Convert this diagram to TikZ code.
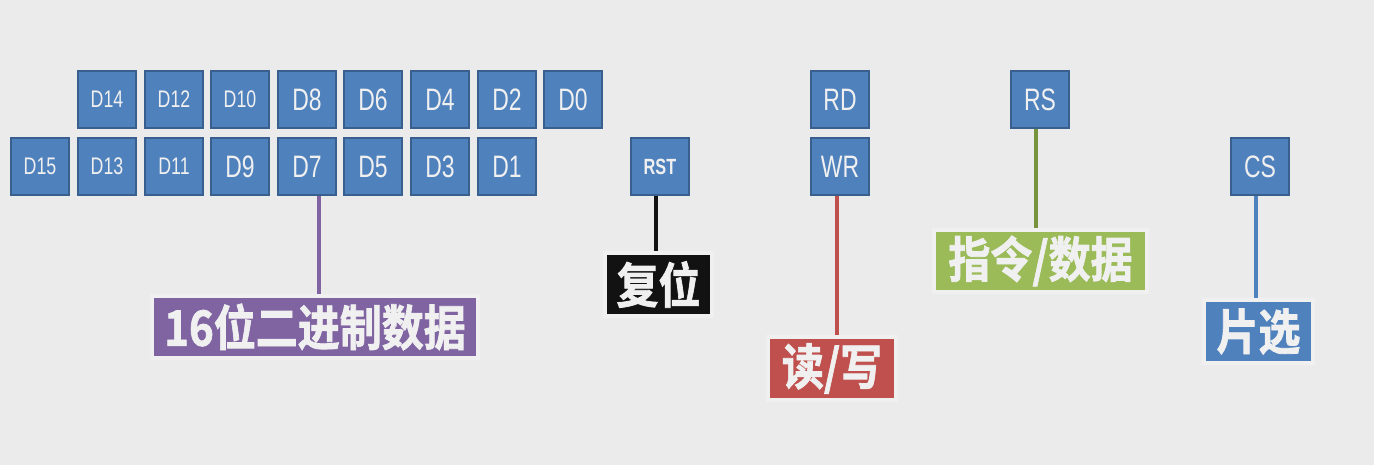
\documentclass[tikz,border=0pt]{standalone}
\usepackage{graphicx}
\usepackage{fontspec}
\newfontfamily\narrowfont[FakeStretch=0.74]{Liberation Sans}
\newfontfamily\cjk[FakeBold=1.6]{Noto Sans CJK SC Bold}
\usetikzlibrary{shadows}
\definecolor{bg}{HTML}{EBEBEB}
\definecolor{boxblue}{HTML}{4F81BD}
\definecolor{boxedge}{HTML}{385F8E}
\definecolor{lpurple}{HTML}{8064A2}
\definecolor{lred}{HTML}{C0504D}
\definecolor{lgreen}{HTML}{9BBB59}
\definecolor{dgreen}{HTML}{77933C}
\definecolor{lblack}{HTML}{121212}
\definecolor{txt}{HTML}{F0F0F0}
\newcommand{\tall}[1]{\raisebox{0pt}{\scalebox{1}[1.16]{#1}}}
\tikzset{
  pin/.style={draw=boxedge, fill=boxblue, line width=1.1pt, minimum width=29pt, minimum height=28.5pt, inner sep=0pt, text=txt, font=\narrowfont\fontsize{15.5}{15}\selectfont},
  pinsmall/.style={pin, font=\narrowfont\fontsize{12}{12}\selectfont},
  lab/.style={draw=white!94!black, line width=1.6pt, inner sep=0pt, text=txt, font=\cjk\fontsize{21}{21}\selectfont, drop shadow={shadow xshift=0.6pt, shadow yshift=-1pt, opacity=0.25}},
  wire/.style={line width=1.8pt}
}
\begin{document}
\begin{tikzpicture}[x=0.5pt,y=-0.5pt]
\fill[bg] (0,0) rectangle (1374,465);
\useasboundingbox (0,0) rectangle (1374,465);
% top row
\node[pinsmall] (D14) at (107,99.5) {D14};
\node[pinsmall] (D12) at (174,99.5) {D12};
\node[pinsmall] (D10) at (240,99.5) {D10};
\node[pin] (D8) at (307,99.5) {D8};
\node[pin] (D6) at (373,99.5) {D6};
\node[pin] (D4) at (440,99.5) {D4};
\node[pin] (D2) at (507,99.5) {D2};
\node[pin] (D0) at (573,99.5) {D0};
% bottom row
\node[pinsmall] (D15) at (40,166.5) {D15};
\node[pinsmall] (D13) at (107,166.5) {D13};
\node[pinsmall] (D11) at (174,166.5) {D11};
\node[pin] (D9) at (240,166.5) {D9};
\node[pin] (D7) at (307,166.5) {D7};
\node[pin] (D5) at (373,166.5) {D5};
\node[pin] (D3) at (440,166.5) {D3};
\node[pin] (D1) at (507,166.5) {D1};
% control pins
\node[pinsmall, font=\narrowfont\bfseries\fontsize{11}{12}\selectfont] (RST) at (660,166.5) {RST};
\node[pin] (RD) at (840,99.5) {RD};
\node[pin] (WR) at (840,166.5) {WR};
\node[pin] (RS) at (1040,99.5) {RS};
\node[pin] (CS) at (1260,166.5) {CS};
% labels
\node[lab, fill=lpurple, minimum width=163pt, minimum height=31pt] (Ldata) at (315,327) {\tall{16位二进制数据}};
\node[lab, fill=lblack, minimum width=53.5pt, minimum height=31.5pt] (Lrst) at (658.5,284.5) {\tall{复位}};
\node[lab, fill=lred, minimum width=64pt, minimum height=31.5pt] (Lrw) at (832,368.5) {\tall{读/写}};
\node[lab, fill=lgreen, minimum width=106.5pt, minimum height=31pt] (Lrs) at (1040.5,261) {\tall{指令/数据}};
\node[lab, fill=boxblue, minimum width=54.5pt, minimum height=31.5pt] (Lcs) at (1258.5,331.5) {\tall{片选}};
% wires
\draw[wire, lpurple] ([xshift=6pt]D7.south) -- ([xshift=6pt]D7.south |- Ldata.north);
\draw[wire, lblack] ([xshift=-2pt]RST.south) -- ([xshift=-2pt]RST.south |- Lrst.north);
\draw[wire, lred] ([xshift=-1.5pt]WR.south) -- ([xshift=-1.5pt]WR.south |- Lrw.north);
\draw[wire, dgreen] ([xshift=-2pt]RS.south) -- ([xshift=-2pt]RS.south |- Lrs.north);
\draw[wire, boxblue] ([xshift=-2pt]CS.south) -- ([xshift=-2pt]CS.south |- Lcs.north);
\end{tikzpicture}
\end{document}
